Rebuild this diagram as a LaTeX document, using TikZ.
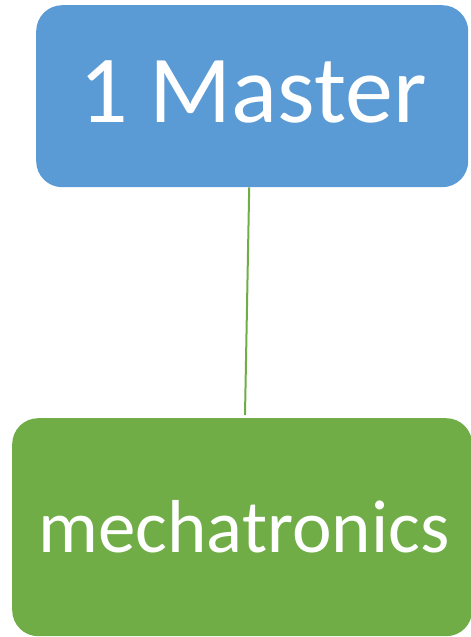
\documentclass[tikz,border=0pt]{standalone}
\usepackage{fontspec}
\setmainfont{Carlito}
\definecolor{boxblue}{HTML}{5B9BD5}
\definecolor{boxgreen}{HTML}{70AD47}
\begin{document}
\begin{tikzpicture}[x=1pt,y=1pt,
  rbox/.style={rounded corners=26pt, inner sep=0pt, draw=none, anchor=north west},
  lbl/.style={inner sep=0pt, text=white, anchor=base}]
\useasboundingbox (0,0) rectangle (471,637);
\node[rbox, fill=boxblue, minimum width=432pt, minimum height=182pt] (boxa) at (36,637-5) {};
\node[lbl, font=\fontsize{96}{100}\selectfont] (a) at (253,637-123) {1 Master};
\node[rbox, fill=boxgreen, minimum width=460pt, minimum height=218pt] (boxb) at (12,637-418) {};
\node[lbl, font=\fontsize{75}{85}\selectfont] (b) at (244,637-553) {mechatronics};
\coordinate (p1) at ([xshift=-3pt]boxa.south);
\coordinate (p2) at (245,637-415);
\draw[boxgreen, line width=2pt] (p1) -- (p2);
\end{tikzpicture}
\end{document}
